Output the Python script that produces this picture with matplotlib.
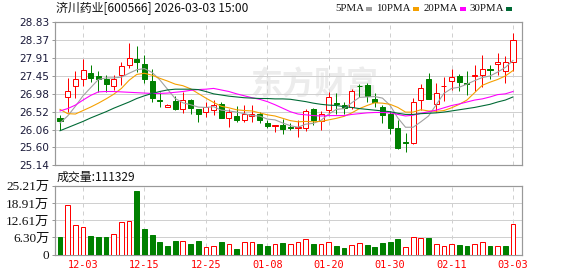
import matplotlib
matplotlib.use('Agg')
import matplotlib.pyplot as plt
from matplotlib.patches import Rectangle

# ---------------- data ----------------
tick_pos = [3, 11, 19, 27, 35, 43, 51, 59]
tick_labels = ['12-03', '12-15', '12-25', '01-08', '01-20', '01-30', '02-11', '03-03']

opens = [26.36, 26.89, 27.19, 27.37, 27.51, 27.44, 27.35, 27.19, 27.46, 27.73,
         27.89, 27.76, 27.30, 26.81, 26.65, 26.79, 26.60, 26.81, 26.59, 26.50,
         26.57, 26.73, 26.37, 26.41, 26.31, 26.42, 26.47, 26.23, 26.14, 26.18,
         26.12, 26.09, 26.09, 26.59, 26.29, 26.56, 26.75, 26.70, 26.65, 27.19,
         27.22, 26.86, 26.63, 26.47, 26.09, 25.74, 25.72, 26.81, 27.37, 26.73,
         27.17, 27.32, 27.43, 27.27, 27.43, 27.47, 27.63, 27.75, 27.56, 27.81]
highs = [26.43, 27.40, 27.58, 27.87, 27.71, 27.58, 27.47, 27.47, 27.80, 28.29,
         28.22, 27.97, 27.63, 27.03, 26.72, 26.93, 27.03, 26.84, 26.59, 26.76,
         26.82, 26.77, 26.60, 26.66, 26.70, 26.70, 26.50, 26.30, 26.18, 26.33,
         26.22, 26.30, 26.58, 26.62, 26.53, 27.03, 27.00, 26.77, 27.10, 27.24,
         27.27, 26.99, 26.69, 26.53, 26.30, 25.96, 26.88, 27.23, 27.52, 27.27,
         27.41, 27.61, 27.48, 27.58, 27.71, 27.99, 27.71, 28.04, 27.95, 28.54]
lows = [26.05, 26.50, 26.88, 27.17, 27.29, 27.03, 27.03, 27.07, 27.20, 27.65,
        27.54, 27.27, 26.76, 26.65, 26.64, 26.56, 26.49, 26.47, 26.26, 26.39,
        26.43, 26.37, 26.13, 26.26, 26.26, 26.26, 26.24, 26.09, 26.00, 25.95,
        26.05, 25.86, 26.02, 26.18, 26.06, 26.45, 26.47, 26.47, 26.60, 26.90,
        26.77, 26.65, 26.24, 25.94, 25.57, 25.49, 25.70, 26.56, 26.84, 26.50,
        26.79, 27.07, 27.05, 26.94, 27.05, 27.16, 27.37, 27.46, 27.27, 27.58]
closes = [26.29, 27.06, 27.35, 27.60, 27.40, 27.36, 27.23, 27.37, 27.70, 27.91,
          27.80, 27.35, 26.87, 26.79, 26.70, 26.59, 26.81, 26.62, 26.47, 26.65,
          26.70, 26.37, 26.52, 26.31, 26.45, 26.46, 26.30, 26.14, 26.18, 26.07,
          26.09, 26.12, 26.53, 26.30, 26.47, 26.89, 26.72, 26.62, 27.06, 27.17,
          26.93, 26.76, 26.43, 26.09, 25.59, 25.71, 26.78, 27.14, 26.84, 27.01,
          27.18, 27.42, 27.29, 27.23, 27.46, 27.62, 27.60, 27.81, 27.80, 28.37]
volume_wan = [6.58, 18.15, 10.84, 9.99, 6.82, 6.46, 6.46, 7.55, 11.80, 12.30,
              23.30, 9.38, 7.19, 4.75, 3.17, 5.00, 5.00, 3.90, 5.00, 2.80,
              3.05, 4.63, 3.90, 2.07, 4.63, 4.63, 3.90, 3.17, 3.90, 4.26,
              3.90, 4.63, 5.60, 3.90, 3.90, 4.63, 3.17, 2.44, 3.41, 4.14,
              3.53, 2.80, 4.26, 4.63, 5.72, 2.68, 6.33, 5.97, 6.09, 3.90,
              3.05, 3.90, 3.53, 3.17, 3.90, 4.63, 3.17, 3.05, 3.05, 11.13]
ma5 = [26.23, 26.41, 26.66, 26.93, 27.14, 27.35, 27.39, 27.39, 27.41, 27.51,
       27.60, 27.63, 27.53, 27.34, 27.10, 26.86, 26.75, 26.70, 26.64, 26.63,
       26.65, 26.56, 26.54, 26.51, 26.47, 26.42, 26.41, 26.33, 26.31, 26.23,
       26.16, 26.12, 26.20, 26.22, 26.30, 26.46, 26.58, 26.60, 26.75, 26.89,
       26.90, 26.91, 26.87, 26.68, 26.36, 26.12, 26.12, 26.26, 26.41, 26.70,
       26.99, 27.12, 27.15, 27.23, 27.32, 27.40, 27.44, 27.54, 27.66, 27.84]
ma10 = [26.58, 26.47, 26.46, 26.55, 26.64, 26.74, 26.85, 26.97, 27.12, 27.33,
        27.48, 27.51, 27.46, 27.38, 27.31, 27.23, 27.19, 27.11, 26.99, 26.87,
        26.76, 26.66, 26.62, 26.57, 26.55, 26.54, 26.49, 26.44, 26.41, 26.35,
        26.29, 26.26, 26.27, 26.26, 26.27, 26.31, 26.35, 26.40, 26.49, 26.60,
        26.68, 26.75, 26.74, 26.71, 26.63, 26.51, 26.51, 26.57, 26.54, 26.53,
        26.55, 26.62, 26.71, 26.82, 27.01, 27.20, 27.28, 27.35, 27.44, 27.58]
ma20 = [26.54, 26.60, 26.69, 26.82, 26.94, 27.03, 27.04, 27.04, 27.03, 27.02,
        27.01, 27.00, 26.99, 26.99, 27.00, 27.02, 27.04, 27.07, 27.09, 27.10,
        27.12, 27.08, 27.04, 26.98, 26.93, 26.88, 26.84, 26.78, 26.70, 26.61,
        26.52, 26.46, 26.44, 26.42, 26.41, 26.42, 26.42, 26.42, 26.45, 26.47,
        26.49, 26.50, 26.50, 26.49, 26.45, 26.41, 26.43, 26.48, 26.52, 26.56,
        26.62, 26.68, 26.72, 26.77, 26.82, 26.85, 26.90, 26.96, 26.98, 27.04]
ma30 = [26.03, 26.11, 26.19, 26.27, 26.36, 26.44, 26.52, 26.61, 26.69, 26.77,
        26.86, 26.93, 26.99, 27.04, 27.08, 27.10, 27.10, 27.10, 27.09, 27.04,
        26.98, 26.95, 26.92, 26.90, 26.88, 26.87, 26.86, 26.86, 26.85, 26.85,
        26.84, 26.81, 26.78, 26.74, 26.71, 26.69, 26.68, 26.65, 26.63, 26.60,
        26.58, 26.56, 26.54, 26.52, 26.48, 26.45, 26.45, 26.47, 26.48, 26.49,
        26.51, 26.54, 26.57, 26.60, 26.63, 26.67, 26.71, 26.77, 26.82, 26.90]
price_ticks = [25.14, 25.60, 26.06, 26.52, 26.98, 27.45, 27.91, 28.37, 28.83]
vol_ticks = [0, 6.30, 12.61, 18.91, 25.21]
vol_tick_labels = ['0', '6.30万', '12.61万', '18.91万', '25.21万']
title_text = '济川药业[600566] 2026-03-03 15:00'
vol_title = '成交量:111329'
legend_names = ['5PMA', '10PMA', '20PMA', '30PMA']

# ---------------- style ----------------
W, H = 578, 276
RED = '#ff0000'
GREEN = '#008000'
MA_COLORS = ['#a0a0a0', '#f5a000', '#ff00ff', '#006a35']
FRAME = '#999999'
GRID = '#d0d0d0'
LABEL = '#1a1a3a'
PX = 72 / 100.0  # one pixel in points

fig = plt.figure(figsize=(W / 100, H / 100), dpi=100)
fig.patch.set_facecolor('white')

def fx(px):
    return px / W

def fy(py):
    return 1 - py / H

left_px, right_px = 54.5, 522.3
main_top, main_bot = 22.0, 165.3
vol_top, vol_bot = 185.7, 254.7
ax = fig.add_axes([fx(left_px), fy(main_bot), (right_px - left_px) / W, (main_bot - main_top) / H])
axv = fig.add_axes([fx(left_px), fy(vol_bot), (right_px - left_px) / W, (vol_bot - vol_top) / H])

step = 7.678
x0 = 60.0
xlim = ((left_px - x0) / step, (right_px - x0) / step)
n = len(closes)
xs = list(range(n))

for a in (ax, axv):
    a.set_xlim(*xlim)
    for s in a.spines.values():
        s.set_color(FRAME)
        s.set_linewidth(PX * 1.2)
    a.set_xticks(tick_pos)
    a.grid(axis='x', color=GRID, linestyle=(0, (4, 4)), linewidth=PX)
    a.grid(axis='y', color=GRID, linestyle='-', linewidth=PX)
    a.set_axisbelow(True)
    a.tick_params(axis='y', length=2.5, width=PX, color=FRAME, pad=1.2)
    a.tick_params(axis='x', length=0)

# watermark
ax.text(0.555, 0.555, '东方财富', transform=ax.transAxes, ha='center', va='center',
        fontsize=23, color='#ececec', family=['Noto Sans CJK SC'], fontweight='bold', zorder=0)

# main price panel
ax.set_ylim(price_ticks[0], price_ticks[-1])
ax.set_yticks(price_ticks)
ax.set_yticklabels(['%.2f' % v for v in price_ticks], fontsize=7.6, color=LABEL, family='DejaVu Sans')
ax.set_xticklabels([])

body_w = 0.66
for i in xs:
    o, h, l, c = opens[i], highs[i], lows[i], closes[i]
    up = c >= o if abs(c - o) > 1e-9 else (i == 0 or c >= closes[i - 1])
    col = RED if up else GREEN
    ax.vlines(i, l, h, color=col, linewidth=PX, zorder=3)
    bottom = min(o, c)
    height = abs(c - o)
    ax.add_patch(Rectangle((i - body_w / 2, bottom), body_w, height,
                           facecolor='white' if up else col, edgecolor=col,
                           linewidth=PX, zorder=4))

for ma, colr in zip([ma5, ma10, ma20, ma30], MA_COLORS):
    ax.plot(xs, ma, color=colr, linewidth=PX * 1.1, zorder=5)

# volume panel
axv.set_ylim(0, vol_ticks[-1])
axv.set_yticks(vol_ticks)
axv.set_yticklabels(vol_tick_labels, fontsize=9.5, color='#111111',
                    family=['Liberation Serif', 'Noto Sans CJK SC'])
axv.set_xticklabels(tick_labels, fontsize=7.4, color=RED, family='DejaVu Sans Mono')
axv.tick_params(axis='x', pad=4.0)

vol_w = 0.62
for i in xs:
    up = closes[i] >= (closes[i - 1] if i > 0 else opens[i])
    col = RED if up else GREEN
    axv.bar(i, volume_wan[i], width=vol_w, facecolor='white' if up else col,
            edgecolor=col, linewidth=PX, zorder=3)

# header texts
fig.text(fx(56), fy(8.5), title_text, ha='left', va='center', fontsize=8.6,
         color='#111111', family=['Noto Sans CJK SC'])
fig.text(fx(57), fy(177.5), vol_title, ha='left', va='center', fontsize=8.6,
         color='#111111', family=['Noto Sans CJK SC'])

# legend: text right-aligned just before each colour square
leg_box_x = [366, 413, 460, 506]
for name, bx, colr in zip(legend_names, leg_box_x, MA_COLORS):
    fig.text(fx(bx - 2), fy(8.5), name, ha='right', va='center', fontsize=7.8,
             color='#111111', family='Liberation Serif')
    fig.add_artist(Rectangle((fx(bx), fy(10.5)), 6 / W, 3.5 / H, transform=fig.transFigure,
                             facecolor=colr, edgecolor='none'))

fig.savefig('out.png', dpi=100, facecolor='white')
